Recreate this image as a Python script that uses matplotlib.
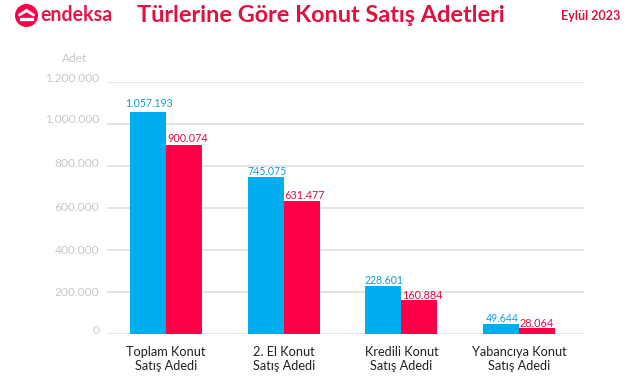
import matplotlib
matplotlib.use("Agg")
import matplotlib.pyplot as plt
from matplotlib.patches import Circle, Polygon, Rectangle
from matplotlib.transforms import ScaledTranslation

kategoriler = ["Toplam Konut\nSatış Adedi", "2. El Konut\nSatış Adedi",
               "Kredili Konut\nSatış Adedi", "Yabancıya Konut\nSatış Adedi"]
seri_mavi = [1057193, 745075, 228601, 49644]
seri_kirmizi = [900074, 631477, 160884, 28064]
etiket_mavi = ["1.057.193", "745.075", "228.601", "49.644"]
etiket_kirmizi = ["900.074", "631.477", "160.884", "28.064"]
y_ticks = [0, 200000, 400000, 600000, 800000, 1000000, 1200000]
y_labels = ["0", "200.000", "400.000", "600.000", "800.000", "1.000.000", "1.200.000"]

MAVI = "#00aeef"
KIRMIZI = "#ff0048"
YAZI_KIRMIZI = "#e0103f"
W, H = 641, 380
px = 0.72  # 1 piksel, punto olarak

plt.rcParams["font.family"] = ["Lato", "DejaVu Sans"]
fig = plt.figure(figsize=(W / 100, H / 100), dpi=100)

ax = fig.add_axes([107 / W, 1 - 334 / H, (584 - 107) / W, (334 - 81.7) / H])
ax.set_xlim(-0.501, 3.552)
ax.set_ylim(0, 1200000)
w = 0.306
# etiketler referansta elle yerlestirilmis, kaymalar piksel
kayma_mavi = [8.5, 6, 5.7, 5]
kayma_kirmizi = [6, 6, 5, 4.6]
for i in range(4):
    ax.bar(i - w / 2, seri_mavi[i], w, color=MAVI, zorder=3)
    ax.bar(i + w / 2, seri_kirmizi[i], w, color=KIRMIZI, zorder=3)
    ax.annotate(etiket_mavi[i], (i - w / 2, seri_mavi[i]), xytext=(1 * px, kayma_mavi[i] * px),
                textcoords="offset points", ha="center", va="center",
                fontsize=7.6, color="#0a9fd8", zorder=4)
    ax.annotate(etiket_kirmizi[i], (i, seri_kirmizi[i]), xytext=(1 * px, kayma_kirmizi[i] * px),
                textcoords="offset points", ha="left", va="center",
                fontsize=7.8, color=YAZI_KIRMIZI, zorder=4)

ax.set_yticks(y_ticks)
ax.set_yticklabels(y_labels, color="#c8c8c8", fontsize=8.6)
ax.set_xticks(range(4))
ax.set_xticklabels(kategoriler, color="#222222", fontsize=9.2, linespacing=1.2)
ax.tick_params(axis="both", length=0)
ax.tick_params(axis="y", pad=5.5)
ax.tick_params(axis="x", pad=9)
ax.grid(axis="y", color="#dedede", lw=1.1, zorder=0)
ax.set_axisbelow(True)
for s in ax.spines.values():
    s.set_visible(False)

# y etiketleri cizgilerle tam hizali degil
yukari = [4, 0, 0.3, 1, 3, 5.3, 4.7]
for lab, d in zip(ax.get_yticklabels(), yukari):
    lab.set_transform(lab.get_transform() + ScaledTranslation(0, d / 100, fig.dpi_scale_trans))

# baslik, logo - piksel koordinatli katman
ov = fig.add_axes([0, 0, 1, 1])
ov.set_xlim(0, W)
ov.set_ylim(H, 0)
ov.axis("off")
ov.patch.set_alpha(0)
ov.add_patch(Circle((26.5, 15.5), 10.8, color=KIRMIZI))
ov.add_patch(Polygon([[26.5, 9.5], [34, 14.5], [34, 16], [26.5, 11.5], [19, 16], [19, 14.5]], color="white"))
ov.add_patch(Rectangle((20, 17.5), 13, 2, color="white"))
ov.text(40, 15, "endeksa", fontsize=14.1, fontweight="bold", color="#e8154a", va="center", ha="left")
ov.text(137, 15, "Türlerine Göre Konut Satış Adetleri", fontsize=16.9, fontweight="bold",
        color=YAZI_KIRMIZI, va="center", ha="left")
ov.text(560.7, 15.5, "Eylül 2023", fontsize=9, fontweight="bold", color=YAZI_KIRMIZI, va="center", ha="left")
ov.text(75, 58, "Adet", fontsize=8.6, color="#c8c8c8", va="center", ha="center")

fig.savefig("out.png", dpi=100)
